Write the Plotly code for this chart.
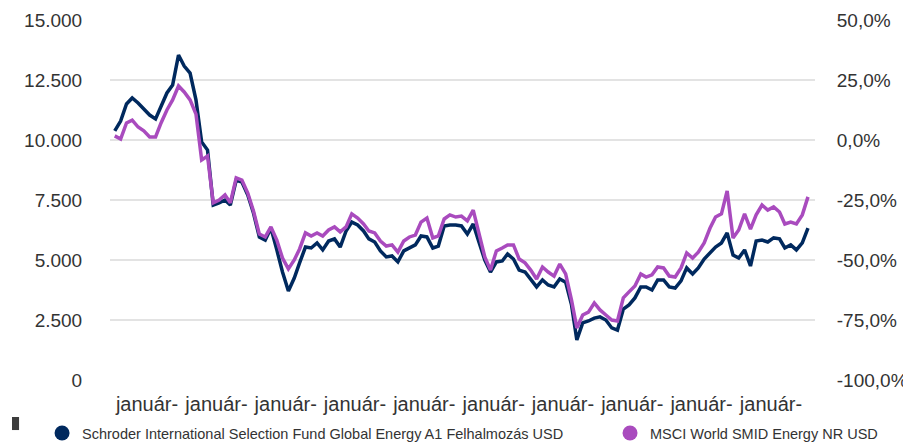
import pandas as pd
import plotly.graph_objects as go

# Monthly observations, Jul 2015 - Jul 2025 (value of 10.000 invested)
fund_name = "Schroder International Selection Fund Global Energy A1 Felhalmozás USD"
index_name = "MSCI World SMID Energy NR USD"

fund_values = [
    10380, 10790, 11500, 11750, 11540, 11290, 11040, 10880, 11380, 11960,
    12290, 13540, 13080, 12790, 11670, 9920, 9580, 7290, 7380, 7500,
    7290, 8330, 8250, 7710, 6960, 5960, 5830, 6330, 5420, 4500,
    3710, 4250, 4880, 5540, 5500, 5710, 5420, 5790, 5880, 5540,
    6210, 6580, 6460, 6210, 5880, 5750, 5380, 5130, 5170, 4920,
    5380, 5500, 5630, 6000, 5960, 5500, 5580, 6420, 6460, 6460,
    6420, 6080, 6500, 5750, 5000, 4500, 4920, 4960, 5250, 5040,
    4580, 4500, 4210, 3880, 4170, 3960, 3880, 4210, 4080, 3130,
    1670, 2380, 2460, 2580, 2630, 2500, 2170, 2080, 2960, 3130,
    3420, 3880, 3880, 3750, 4170, 4170, 3880, 3830, 4130, 4670,
    4420, 4670, 5040, 5290, 5540, 5710, 6130, 5210, 5080, 5420,
    4750, 5790, 5830, 5750, 5920, 5880, 5500, 5630, 5420, 5710,
    6330,
]

index_values = [
    10170, 10040, 10710, 10830, 10540, 10380, 10130, 10130, 10710, 11250,
    11670, 12250, 12000, 11670, 11080, 9170, 9330, 7380, 7500, 7710,
    7380, 8420, 8330, 7790, 7040, 6080, 5960, 6380, 5830, 5080,
    4630, 5000, 5460, 6130, 6000, 6130, 6000, 6250, 6380, 6170,
    6380, 6920, 6750, 6500, 6210, 6130, 5790, 5580, 5630, 5330,
    5790, 5960, 6040, 6580, 6750, 5920, 6000, 6710, 6880, 6790,
    6830, 6630, 7080, 6040, 5130, 4580, 5380, 5500, 5630, 5630,
    5040, 4880, 4580, 4210, 4710, 4500, 4330, 4830, 4420, 3330,
    2170, 2710, 2830, 3210, 2920, 2710, 2500, 2460, 3420, 3670,
    3920, 4420, 4290, 4380, 4710, 4670, 4330, 4290, 4670, 5290,
    5080, 5330, 5710, 6330, 6790, 6920, 7880, 5920, 6250, 6920,
    6290, 6880, 7290, 7080, 7210, 7000, 6500, 6580, 6500, 6880,
    7630,
]

left_tick_values = [0, 2500, 5000, 7500, 10000, 12500, 15000]
left_tick_labels = ["0", "2.500", "5.000", "7.500", "10.000", "12.500", "15.000"]
right_tick_values = [-100, -75, -50, -25, 0, 25, 50]
right_tick_labels = ["-100,0%", "-75,0%", "-50,0%", "-25,0%", "0,0%", "25,0%", "50,0%"]
x_tick_dates = ["2016-01-01", "2017-01-01", "2018-01-01", "2019-01-01", "2020-01-01",
                "2021-01-01", "2022-01-01", "2023-01-01", "2024-01-01", "2025-01-01"]
x_tick_labels = ["január-"] * len(x_tick_dates)

dates = pd.date_range("2015-07-01", periods=len(fund_values), freq="MS") + pd.Timedelta(days=14)

NAVY = "#00295E"
PURPLE = "#A94BBE"
FONT = "Liberation Sans, Arial, sans-serif"
TEXT = "#333333"

fig = go.Figure()
fig.add_trace(go.Scatter(x=dates, y=fund_values, mode="lines", name=fund_name,
                         line=dict(color=NAVY, width=3.5), showlegend=False))
fig.add_trace(go.Scatter(x=dates, y=index_values, mode="lines", name=index_name,
                         line=dict(color=PURPLE, width=3.5), showlegend=False))
# legend entries (circle markers), one legend each so they sit far apart
fig.add_trace(go.Scatter(x=[None], y=[None], mode="markers", name=fund_name,
                         marker=dict(color=NAVY, size=15), legend="legend"))
fig.add_trace(go.Scatter(x=[None], y=[None], mode="markers", name=index_name,
                         marker=dict(color=PURPLE, size=15), legend="legend2"))
# invisible trace to activate the right axis
fig.add_trace(go.Scatter(x=[dates[0]], y=[0], yaxis="y2", mode="markers",
                         marker=dict(opacity=0), showlegend=False, hoverinfo="skip"))

legend_style = dict(orientation="h", xref="container", yref="container",
                    xanchor="left", yanchor="middle", y=0.0207,
                    font=dict(size=14.5, color=TEXT), bgcolor="rgba(0,0,0,0)",
                    borderwidth=0)

# page body adds an 8px offset, so the figure is 8px smaller than the window
fig.update_layout(
    width=903, height=434,
    margin=dict(l=102, r=96, t=12, b=62, autoexpand=False),
    paper_bgcolor="white", plot_bgcolor="white",
    font=dict(family=FONT, size=19, color=TEXT),
    xaxis=dict(
        type="date",
        range=["2015-06-20", "2025-08-21"],
        tickvals=x_tick_dates, ticktext=x_tick_labels,
        showgrid=False, zeroline=False, showline=False,
        ticks="outside", ticklen=6, tickcolor="rgba(0,0,0,0)",
        tickfont=dict(size=20, color=TEXT),
    ),
    yaxis=dict(
        range=[0, 15000],
        tickvals=left_tick_values, ticktext=left_tick_labels,
        showgrid=True, gridcolor="#E3E3E3", gridwidth=2,
        zeroline=False, showline=False,
        ticks="outside", ticklen=23, tickcolor="rgba(0,0,0,0)",
        tickfont=dict(size=19, color=TEXT),
    ),
    yaxis2=dict(
        overlaying="y", side="right",
        range=[-100, 50],
        tickvals=right_tick_values, ticktext=right_tick_labels,
        showgrid=False, zeroline=False, showline=False,
        ticks="outside", ticklen=17, tickcolor="rgba(0,0,0,0)",
        tickfont=dict(size=19, color=TEXT),
    ),
    legend=dict(legend_style, x=0.0377),
    legend2=dict(legend_style, x=0.6667),
    shapes=[dict(type="rect", xref="paper", yref="paper",
                 x0=-0.139, x1=-0.129, y0=-0.139, y1=-0.1028,
                 fillcolor="#3C3C3C", line=dict(width=0))],
    showlegend=True,
)

fig.write_html("out.html")
